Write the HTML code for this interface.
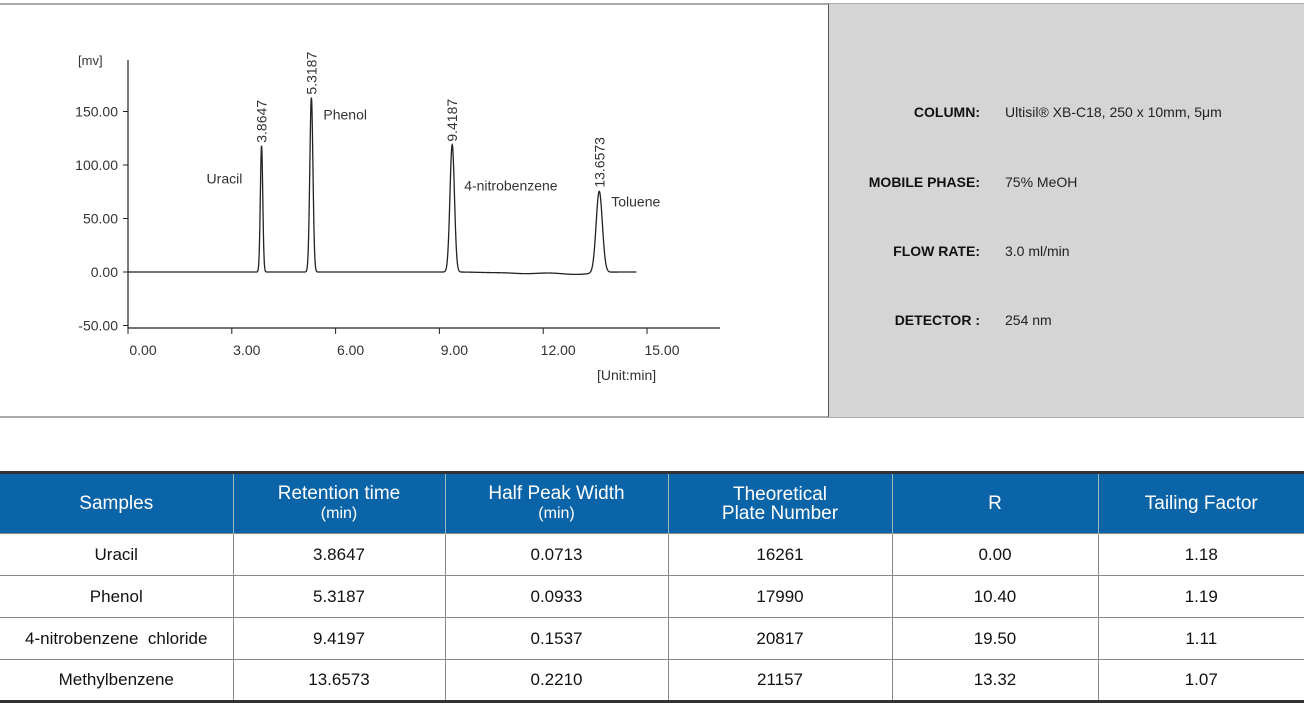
<!DOCTYPE html>
<html><head><meta charset="utf-8"><style>
body{margin:0;width:1304px;height:705px;background:#fff;font-family:"Liberation Sans",sans-serif;position:relative;overflow:hidden}
#panel{position:absolute;left:828px;top:4px;width:476px;height:413px;background:#d5d5d5;border-left:1px solid #555}
.hl{position:absolute;left:0;width:1304px;height:2px;background:#aaa}
.lab{position:absolute;right:324px;font-weight:bold;font-size:14px;color:#111}
.val{position:absolute;left:1005px;font-size:14px;color:#222}
table{position:absolute;left:0;top:471px;width:1304px;border-collapse:collapse;table-layout:fixed;font-size:17px}
th,td{padding:0;box-sizing:border-box}
th{background:#0b64a8;color:#fff;font-weight:normal;height:61px;border-left:1px solid #9bb;line-height:19px;font-size:19px}
th small{font-size:16px}
td{text-align:center;height:42px;border-left:1px solid #888;border-top:1px solid #888;color:#111}
tr td:first-child,tr th:first-child{border-left:none}
</style></head><body>
<div class="hl" style="top:3px"></div>
<div class="hl" style="top:416px"></div>
<div id="panel"></div>
<div class="lab" style="top:104px">COLUMN:</div>
<div class="val" style="top:104px">Ultisil® XB-C18, 250 x 10mm, 5μm</div>
<div class="lab" style="top:174px">MOBILE PHASE:</div>
<div class="val" style="top:174px">75% MeOH</div>
<div class="lab" style="top:243px">FLOW RATE:</div>
<div class="val" style="top:243px">3.0 ml/min</div>
<div class="lab" style="top:312px">DETECTOR :</div>
<div class="val" style="top:312px">254 nm</div>

<svg id="chart" width="828" height="417" style="position:absolute;left:0;top:0"></svg>

<table>
<colgroup><col style="width:233px"><col style="width:212px"><col style="width:223px"><col style="width:224px"><col style="width:206px"><col></colgroup>
<tr style="border-top:3px solid #333"><th>Samples</th><th>Retention time<br><small>(min)</small></th><th>Half Peak Width<br><small>(min)</small></th><th>Theoretical<br>Plate Number</th><th>R</th><th>Tailing Factor</th></tr>
<tr><td>Uracil</td><td>3.8647</td><td>0.0713</td><td>16261</td><td>0.00</td><td>1.18</td></tr>
<tr><td>Phenol</td><td>5.3187</td><td>0.0933</td><td>17990</td><td>10.40</td><td>1.19</td></tr>
<tr><td>4-nitrobenzene&nbsp; chloride</td><td>9.4197</td><td>0.1537</td><td>20817</td><td>19.50</td><td>1.11</td></tr>
<tr style="border-bottom:3px solid #333"><td>Methylbenzene</td><td>13.6573</td><td>0.2210</td><td>21157</td><td>13.32</td><td>1.07</td></tr>
</table>

<script>
const peakTimes=[3.86,5.30,9.37,13.62];
const peakHeights=[118,163,119,76];
const peakWidths=[0.035,0.045,0.065,0.09];
const peakNames=["Uracil","Phenol","4-nitrobenzene","Toluene"];
const peakLabels=["3.8647","5.3187","9.4187","13.6573"];
const xTicks=[0,3,6,9,12,15];
const yTicks=[-50,0,50,100,150];
const driftTimes=[10.5,11.5,12.5,13.0];
const driftVals=[-0.5,-1.5,-0.5,-2];
const X=t=>128+t*(519/15);
const Y=v=>272-v*(53.5/50);
const svg=document.getElementById('chart');
const NS='http://www.w3.org/2000/svg';
function mk(tag,attrs){const e=document.createElementNS(NS,tag);for(const k in attrs)e.setAttribute(k,attrs[k]);svg.appendChild(e);return e;}
let a=mk('line',{x1:128,y1:60,x2:128,y2:328,stroke:'#222','stroke-width':1.2});

a=mk('line',{x1:128,y1:328,x2:720,y2:328,stroke:'#222','stroke-width':1.2});

yTicks.forEach(v=>{
 const l=mk('line',{x1:123,y1:Y(v),x2:128,y2:Y(v),stroke:'#222'});
 
 const t=mk('text',{x:118,y:Y(v)+5,'text-anchor':'end','font-size':14,fill:'#333'});t.textContent=v.toFixed(2);
 
});
xTicks.forEach(v=>{
 const l=mk('line',{x1:X(v),y1:328,x2:X(v),y2:334,stroke:'#222'});
 
 const t=mk('text',{x:X(v)+15,y:355,'text-anchor':'middle','font-size':14,fill:'#333'});t.textContent=v.toFixed(2);
 
});
let t=mk('text',{x:78,y:65,'font-size':13,fill:'#333'});t.textContent='[mv]';

t=mk('text',{x:597,y:380,'font-size':14,fill:'#333'});t.textContent='[Unit:min]';

function sig(x){let v=0;for(let i=0;i<peakTimes.length;i++){const d=(x-peakTimes[i])/peakWidths[i];v+=peakHeights[i]*Math.exp(-0.5*d*d);}
 for(let i=0;i<driftTimes.length;i++){const d=(x-driftTimes[i])/0.4;v+=driftVals[i]*Math.exp(-0.5*d*d);}return v;}
let d='';for(let x=0;x<=14.7;x+=0.005){d+=(d?'L':'M')+X(x).toFixed(2)+','+Y(sig(x)).toFixed(2);}
const p=mk('path',{d:d,fill:'none',stroke:'#222','stroke-width':1.3});

const nameDx=[-55,12,12,12],nameDy=[38,22,46,16];
peakTimes.forEach((pt,i)=>{
 const px=X(pt),py=Y(peakHeights[i]);
 const l=mk('text',{x:0,y:0,'font-size':14,fill:'#333',transform:`translate(${px+5},${py-3}) rotate(-90)`});l.textContent=peakLabels[i];
 
 const n=mk('text',{x:px+nameDx[i],y:py+nameDy[i],'font-size':14,fill:'#333'});n.textContent=peakNames[i];
 
});
</script>
</body></html>
